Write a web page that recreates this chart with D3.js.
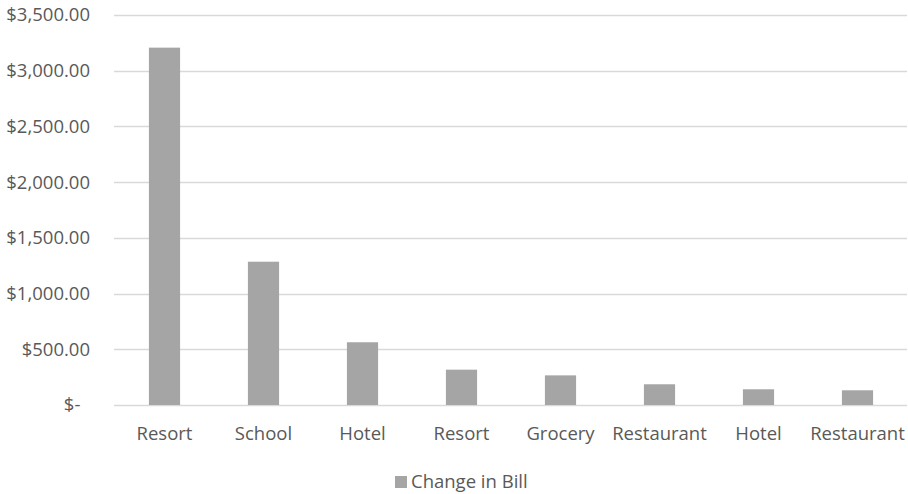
<!DOCTYPE html>
<html>
<head>
<meta charset="utf-8">
<script src="https://cdn.jsdelivr.net/npm/d3@7"></script>
<style>
  body { margin: 0; background: #fff; }
  text { font-family: "Open Sans", sans-serif; fill: #595959; }
</style>
</head>
<body>
<svg id="svg"></svg>
<script>
// chart data
let categories = ["Resort", "School", "Hotel", "Resort", "Grocery", "Restaurant", "Hotel", "Restaurant"]
let changeInBill = [3207, 1286, 563, 317, 266, 186, 141, 132]
let yTicks = [0, 500, 1000, 1500, 2000, 2500, 3000, 3500]
let seriesName = "Change in Bill"

// colors
let barColor = "#a5a5a5"
let gridColor = "#d9d9d9"

let width = 908,
    height = 494;

let svg = d3.select("#svg")
    .attr("width", width)
    .attr("height", height);

let plotLeft = 115, plotRight = 907, plotTop = 15, plotBottom = 405;

let x = d3.scaleBand()
    .domain(d3.range(categories.length))
    .range([plotLeft, plotRight])
    .paddingInner(0.685)
    .paddingOuter(0.3425);

let y = d3.scaleLinear()
    .domain([0, 3500])
    .range([plotBottom, plotTop]);

let fmt = d3.format("$,.2f");

// gridlines
svg.append("g")
  .selectAll("line")
  .data(yTicks)
  .join("line")
    .attr("x1", plotLeft - 1)
    .attr("x2", plotRight)
    .attr("y1", d => Math.round(y(d)) + 0.5)
    .attr("y2", d => Math.round(y(d)) + 0.5)
    .attr("stroke", gridColor)
    .attr("stroke-width", 1.3);

// y labels
svg.append("g")
  .selectAll("text")
  .data(yTicks)
  .join("text")
    .attr("x", 90)
    .attr("y", d => y(d))
    .attr("dy", "0.35em")
    .attr("text-anchor", "end")
    .style("font-size", "18.5px")
    .text(d => d === 0 ? "$-\u00a0\u00a0" : fmt(d));

// bars
svg.append("g")
  .selectAll("rect")
  .data(changeInBill)
  .join("rect")
    .attr("x", (d, i) => x(i))
    .attr("width", x.bandwidth())
    .attr("y", d => y(d))
    .attr("height", d => plotBottom - y(d))
    .attr("fill", barColor);

// x labels
svg.append("g")
  .selectAll("text")
  .data(categories)
  .join("text")
    .attr("x", (d, i) => x(i) + x.bandwidth() / 2)
    .attr("y", 434)
    .attr("dy", "0.35em")
    .attr("text-anchor", "middle")
    .style("font-size", "18.5px")
    .text(d => d);

// legend
let legend = svg.append("g");
legend.append("rect")
    .attr("x", 395)
    .attr("y", 476)
    .attr("width", 12)
    .attr("height", 12)
    .attr("fill", barColor);
legend.append("text")
    .attr("x", 411)
    .attr("y", 482)
    .attr("dy", "0.35em")
    .style("font-size", "18.5px")
    .text(seriesName);
</script>
</body>
</html>
